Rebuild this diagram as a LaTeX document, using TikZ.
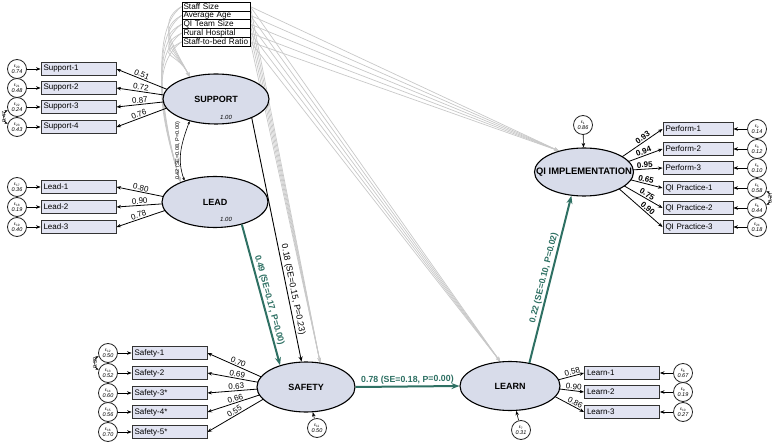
\documentclass[tikz,border=0pt]{standalone}
\usepackage{fontspec}
\setmainfont{Liberation Sans}
\usetikzlibrary{arrows.meta,shapes.geometric,backgrounds,calc}
\definecolor{tealpath}{RGB}{46,112,99}
\definecolor{boxfill}{RGB}{226,228,242}
\definecolor{latfill}{RGB}{216,220,234}
\definecolor{covgray}{RGB}{200,200,200}
\newcommand{\errlab}[2]{{\upshape\fontsize{4.5}{4.5}\selectfont ε\textsubscript{#1}}\\#2}
\newcommand{\latname}[1]{\makebox[0pt]{#1}}
\begin{document}
\begin{tikzpicture}[x=1pt,y=-1pt,
 obs/.style={draw=black!80,line width=0.9pt,fill=boxfill,minimum height=13.5pt,text width=70pt,inner xsep=2.5pt,inner ysep=0pt,align=left,font=\fontsize{8}{8}\selectfont},
 qobs/.style={obs,minimum height=12.5pt,text width=65pt},
 covbox/.style={draw=black,line width=0.7pt,fill=white,minimum width=68pt,minimum height=8.8pt,inner xsep=1.5pt,inner ysep=0pt,text width=65pt,align=left,font=\fontsize{8.2}{8}\selectfont},
 lat/.style={ellipse,draw=black,line width=1.1pt,fill=latfill,inner sep=0pt,font=\bfseries\fontsize{9}{9}\selectfont},
 err/.style={circle,draw=black!85,line width=0.8pt,fill=white,minimum size=19pt,inner sep=0pt,align=center,font=\itshape\fontsize{5.5}{6.3}\selectfont},
 load/.style={line width=0.8pt,-{Stealth[length=4.5pt,width=3.5pt]}},
 grayarr/.style={draw=covgray,line width=0.7pt,-{Stealth[length=4.5pt,width=3.5pt]}},
 mainpath/.style={draw=tealpath,line width=2pt,-{Stealth[length=8pt,width=6pt]}},
 blkpath/.style={draw=black,line width=0.9pt,-{Stealth[length=5pt,width=4pt]}},
 covarr/.style={line width=0.6pt,{Stealth[length=3pt,width=2.5pt]}-{Stealth[length=3pt,width=2.5pt]}},
 lbl/.style={sloped,above,inner sep=1pt,font=\fontsize{8}{8}\selectfont},
 qlbl/.style={lbl,font=\bfseries\fontsize{8}{8}\selectfont},
 plbl/.style={sloped,above,inner sep=1.5pt,font=\fontsize{8.8}{9}\selectfont},
 tlbl/.style={sloped,above,inner sep=1.5pt,text=tealpath,font=\bfseries\fontsize{8.8}{9}\selectfont},
 covlbl/.style={rotate=90,inner sep=0.5pt,font=\fontsize{5.5}{6}\selectfont},
 varlbl/.style={font=\itshape\fontsize{6}{6}\selectfont,inner sep=0pt}]
\useasboundingbox (0,0) rectangle (778,443);

% covariates
\node[covbox] (cov1) at (216,6.6) {Staff Size};
\node[covbox] (cov2) at (216,15.4) {Average Age};
\node[covbox] (cov3) at (216,24.2) {QI Team Size};
\node[covbox] (cov4) at (216,33.0) {Rural Hospital};
\node[covbox] (cov5) at (216,41.8) {Staff-to-bed Ratio};

% latent variables
\node[lat,minimum width=106pt,minimum height=50pt] (sup) at (216,99) {\latname{SUPPORT}};
\node[lat,minimum width=106pt,minimum height=51pt] (lead) at (215,202) {\latname{LEAD}};
\node[lat,minimum width=98pt,minimum height=50pt] (safety) at (306,387) {\latname{SAFETY}};
\node[lat,minimum width=100pt,minimum height=49pt] (learn) at (510,386) {\latname{LEARN}};
\node[lat,minimum width=99pt,minimum height=48pt,font=\bfseries\fontsize{9.4}{9}\selectfont] (qi) at (584,172) {\latname{QI IMPLEMENTATION}};
\node[varlbl] (supv) at (226,117) {1.00};
\node[varlbl] (leadv) at (226,219) {1.00};

% indicators
\node[obs] (s1) at (78.5,69) {Support-1};
\node[obs] (s2) at (78.5,88) {Support-2};
\node[obs] (s3) at (78.5,107) {Support-3};
\node[obs] (s4) at (78.5,127) {Support-4};
\node[obs] (l1) at (78.5,187) {Lead-1};
\node[obs] (l2) at (78.5,207) {Lead-2};
\node[obs] (l3) at (78.5,227) {Lead-3};
\node[obs] (f1) at (169.5,353) {Safety-1};
\node[obs] (f2) at (169.5,373) {Safety-2};
\node[obs] (f3) at (169.5,393) {Safety-3*};
\node[obs] (f4) at (169.5,412) {Safety-4*};
\node[obs] (f5) at (169.5,432) {Safety-5*};
\node[obs] (n1) at (622,373) {Learn-1};
\node[obs] (n2) at (622,392) {Learn-2};
\node[obs] (n3) at (622,412) {Learn-3};
\node[qobs] (q1) at (698,129) {Perform-1};
\node[qobs] (q2) at (698,149) {Perform-2};
\node[qobs] (q3) at (698,168) {Perform-3};
\node[qobs] (q4) at (698,188) {QI Practice-1};
\node[qobs] (q5) at (698,208) {QI Practice-2};
\node[qobs] (q6) at (698,227) {QI Practice-3};

% error terms
\node[err] (e20) at (17,69) {\errlab{20}{0.74}};
\node[err] (e21) at (17,88) {\errlab{21}{0.48}};
\node[err] (e22) at (17,107) {\errlab{22}{0.24}};
\node[err] (e23) at (17,127) {\errlab{23}{0.43}};
\node[err] (e17) at (17,187) {\errlab{17}{0.36}};
\node[err] (e18) at (17,207) {\errlab{18}{0.19}};
\node[err] (e19) at (17,227) {\errlab{19}{0.40}};
\node[err] (e12) at (108,353) {\errlab{12}{0.50}};
\node[err] (e13) at (108,373) {\errlab{13}{0.52}};
\node[err] (e14) at (108,393) {\errlab{14}{0.60}};
\node[err] (e15) at (108,412) {\errlab{15}{0.56}};
\node[err] (e16) at (108,432) {\errlab{16}{0.70}};
\node[err] (e11) at (317,428) {\errlab{11}{0.50}};
\node[err] (e7) at (521,430) {\errlab{7}{0.31}};
\node[err] (e8) at (683,373) {\errlab{8}{0.67}};
\node[err] (e9) at (683,392) {\errlab{9}{0.19}};
\node[err] (e10) at (683,412) {\errlab{10}{0.27}};
\node[err] (e1) at (583,125) {\errlab{1}{0.86}};
\node[err] (e2) at (757,129) {\errlab{2}{0.14}};
\node[err] (e3) at (757,149) {\errlab{3}{0.12}};
\node[err] (e4) at (757,168) {\errlab{4}{0.10}};
\node[err] (e5) at (757,188) {\errlab{5}{0.58}};
\node[err] (e6) at (757,208) {\errlab{6}{0.44}};
\node[err] (e24) at (757,227) {\errlab{24}{0.18}};

\begin{scope}[on background layer]
 \foreach \i in {1,...,5}{
  \draw[grayarr] (cov\i.west) .. controls +(-28,15) and +(-12,-25) .. (sup.140);
  \draw[grayarr] (cov\i.west) .. controls +(-35,25) and +(-15,-50) .. (lead.150);
  \draw[grayarr] (cov\i.east) -- (safety.60);
  \draw[grayarr] (cov\i.east) -- (learn.112);
  \draw[grayarr] (cov\i.east) -- (qi.140);
 }
 \foreach \b/\v in {s1/0.51,s2/0.72,s3/0.87,s4/0.76}
  \draw[load] ($(sup)+(-25,0)$) -- node[lbl,pos=.68]{\v} (\b.east);
 \foreach \b/\v in {l1/0.80,l2/0.90,l3/0.78}
  \draw[load] ($(lead)+(-25,0)$) -- node[lbl,pos=.68]{\v} (\b.east);
 \foreach \b/\v in {f1/0.70,f2/0.69,f3/0.63,f4/0.66,f5/0.55}
  \draw[load] ($(safety)+(-22,0)$) -- node[lbl,pos=.62]{\v} (\b.east);
 \foreach \b/\v in {n1/0.58,n2/0.90,n3/0.86}
  \draw[load] ($(learn)+(25,0)$) -- node[lbl,pos=.78]{\v} (\b.west);
 \foreach \b/\v in {q1/0.93,q2/0.94,q3/0.95,q4/0.65,q5/0.75,q6/0.90}
  \draw[load] ($(qi)+(16,0)$) -- node[qlbl,pos=.72]{\v} (\b.west);
\end{scope}

% error arrows
\foreach \e/\b in {e20/s1,e21/s2,e22/s3,e23/s4,e17/l1,e18/l2,e19/l3,e12/f1,e13/f2,e14/f3,e15/f4,e16/f5,e8/n1,e9/n2,e10/n3,e2/q1,e3/q2,e4/q3,e5/q4,e6/q5,e24/q6}
 \draw[load,line width=0.6pt] (\e) -- (\b);
\draw[load,line width=0.6pt] (e11) -- (safety);
\draw[load,line width=0.6pt] (e7) -- (learn);
\draw[load,line width=0.6pt] (e1) -- (qi);

% error covariances
\draw[covarr] (e22.200) to[out=200,in=160] node[covlbl,midway]{0.47} (e23.160);
\draw[covarr] (e12.200) to[out=200,in=160] node[covlbl,midway]{0.39} (e13.160);
\draw[covarr] (e5.-20) to[out=-20,in=20] node[covlbl,midway]{0.27} (e6.20);

% support-lead covariance
\draw[covarr] (sup.-140) to[out=-110,in=110] node[covlbl,midway,anchor=south]{0.42 (SE=0.08, P=0.00)} (lead.145);

% structural paths
\draw[blkpath] (sup.-28) -- node[plbl,pos=.71]{0.18 (SE=0.15, P=0.23)} (safety.100);
\draw[mainpath] (lead.-40) -- node[tlbl,pos=.55]{0.49 (SE=0.17, P=0.00)} (safety.140);
\draw[mainpath] (safety.east) -- node[tlbl]{0.78 (SE=0.18, P=0.00)} (learn.west);
\draw[mainpath] (learn.50) -- node[tlbl,pos=.5]{0.22 (SE=0.10, P=0.02)} (qi.-118);
\end{tikzpicture}
\end{document}
